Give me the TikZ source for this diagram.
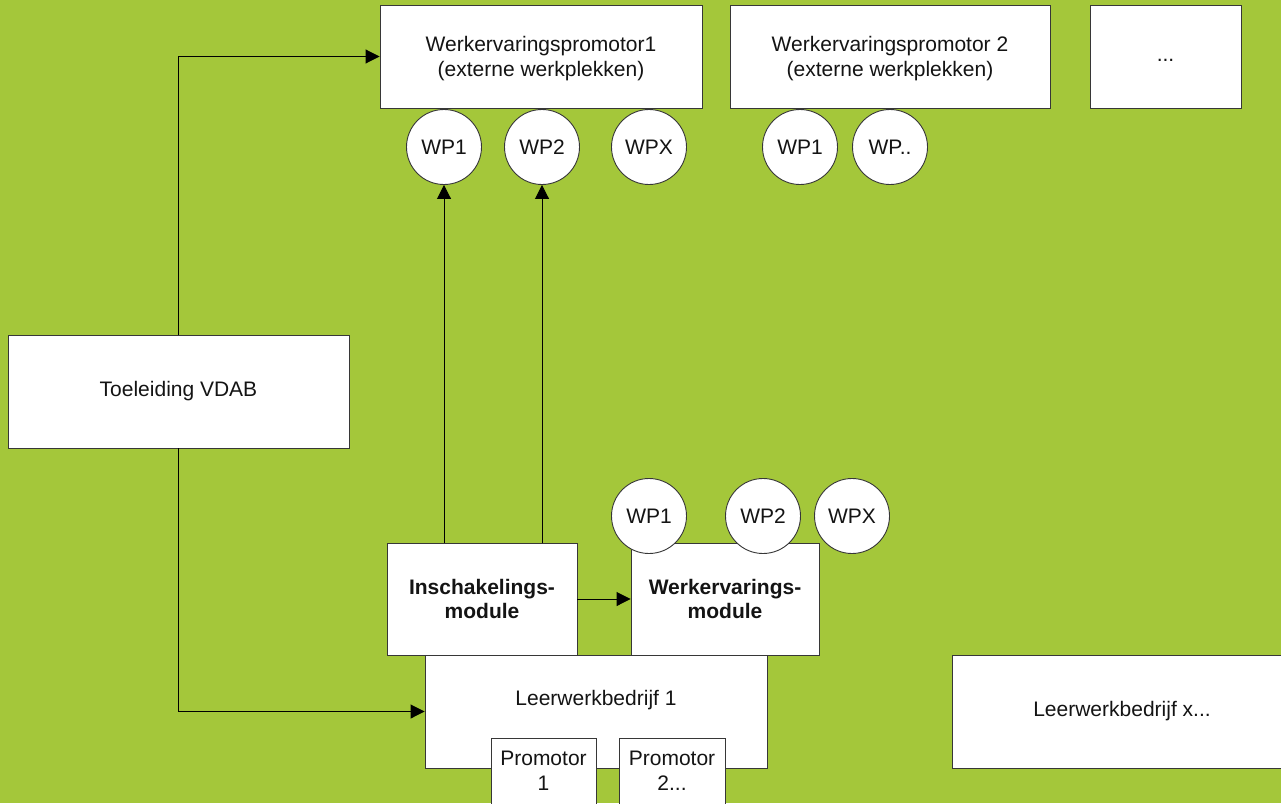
\documentclass[tikz,border=0pt]{standalone}
\usepackage{fontspec}
\setmainfont{Liberation Sans}
\usetikzlibrary{arrows.meta}

\definecolor{bggreen}{RGB}{164,199,58}
\definecolor{edgegray}{RGB}{55,55,55}
\definecolor{inkblack}{RGB}{20,20,20}

\tikzset{
  txt/.style={text=inkblack, align=center, inner sep=0pt, font=\fontsize{21}{24.5}\selectfont},
  box/.style={txt, draw=edgegray, fill=white, line width=0.9pt, rectangle},
  wp/.style={txt, draw=edgegray, fill=white, line width=0.9pt, circle, minimum size=75},
  link/.style={line width=0.9pt, draw=black, -{Triangle[length=14pt,width=14pt]}},
}

\begin{document}
\begin{tikzpicture}[x=1pt,y=-1pt]

% Green background
\fill[bggreen] (0,0) rectangle (1281,803);
\useasboundingbox (0,0) rectangle (1281,803);
\clip (0,0) rectangle (1281,803);

% Werkervaringspromotoren (top row)
\node[box, text height=43.5, minimum width=322, minimum height=103] (wpa) at (541,56.5) {Werkervaringspromotor1\\(externe werkplekken)};
\node[box, text height=43.5, minimum width=320, minimum height=103] (wpb) at (890,56.5) {Werkervaringspromotor 2\\(externe werkplekken)};
\node[box, text height=15, text depth=4.5, minimum width=151, minimum height=103] (wpc) at (1165.5,56.5) {...};

% Werkplekken under the promotoren
\foreach \x/\n/\t in {444/wpa1/WP1, 542/wpa2/WP2, 649/wpax/WPX, 800/wpb1/WP1, 890/wpbx/WP..} {
    \node[wp] (\n) at (\x,147) {\t};
}

% Toeleiding
\node[box, minimum width=341, minimum height=113] (toe) at (178.5,391.5) {Toeleiding VDAB};

% Leerwerkbedrijven
\node[box, minimum width=342, minimum height=113] (lwb1) at (596,711.5) {};
\node[txt] (lwb1txt) at (596,700.5) {Leerwerkbedrijf 1};
\node[box, minimum width=340, minimum height=113] (lwbx) at (1122,711.5) {Leerwerkbedrijf x...};

% Promotoren inside Leerwerkbedrijf 1
\node[box, anchor=north, minimum width=105, minimum height=80] (prom1) at (543.5,738) {};
\node[txt] (prom1txt) at (543.5,771) {Promotor\\1};
\node[box, anchor=north, minimum width=106, minimum height=80] (prom2) at (672,738) {};
\node[txt] (prom2txt) at (672,771) {Promotor\\2...};

% Modules
\node[box, font=\fontsize{21}{24.5}\selectfont\bfseries, minimum width=190, minimum height=112] (insch) at (482,599) {Inschakelings-\\module};
\node[box, font=\fontsize{21}{24.5}\selectfont\bfseries, minimum width=188, minimum height=112] (werk) at (725,599) {Werkervarings-\\module};

% Werkplekken of the werkervaringsmodule
\foreach \x/\n/\t in {649/wm1/WP1, 763/wm2/WP2, 852/wmx/WPX} {
    \node[wp] (\n) at (\x,516) {\t};
}

% Connectors
\draw[link] (toe.north) |- (wpa.west);
\draw[link] (toe.south) |- (lwb1.west);
\draw[link] (insch.north -| wpa1.south) -- (wpa1.south);
\draw[link] (insch.north -| wpa2.south) -- (wpa2.south);
\draw[link] (insch.east) -- (werk.west);

\end{tikzpicture}
\end{document}
